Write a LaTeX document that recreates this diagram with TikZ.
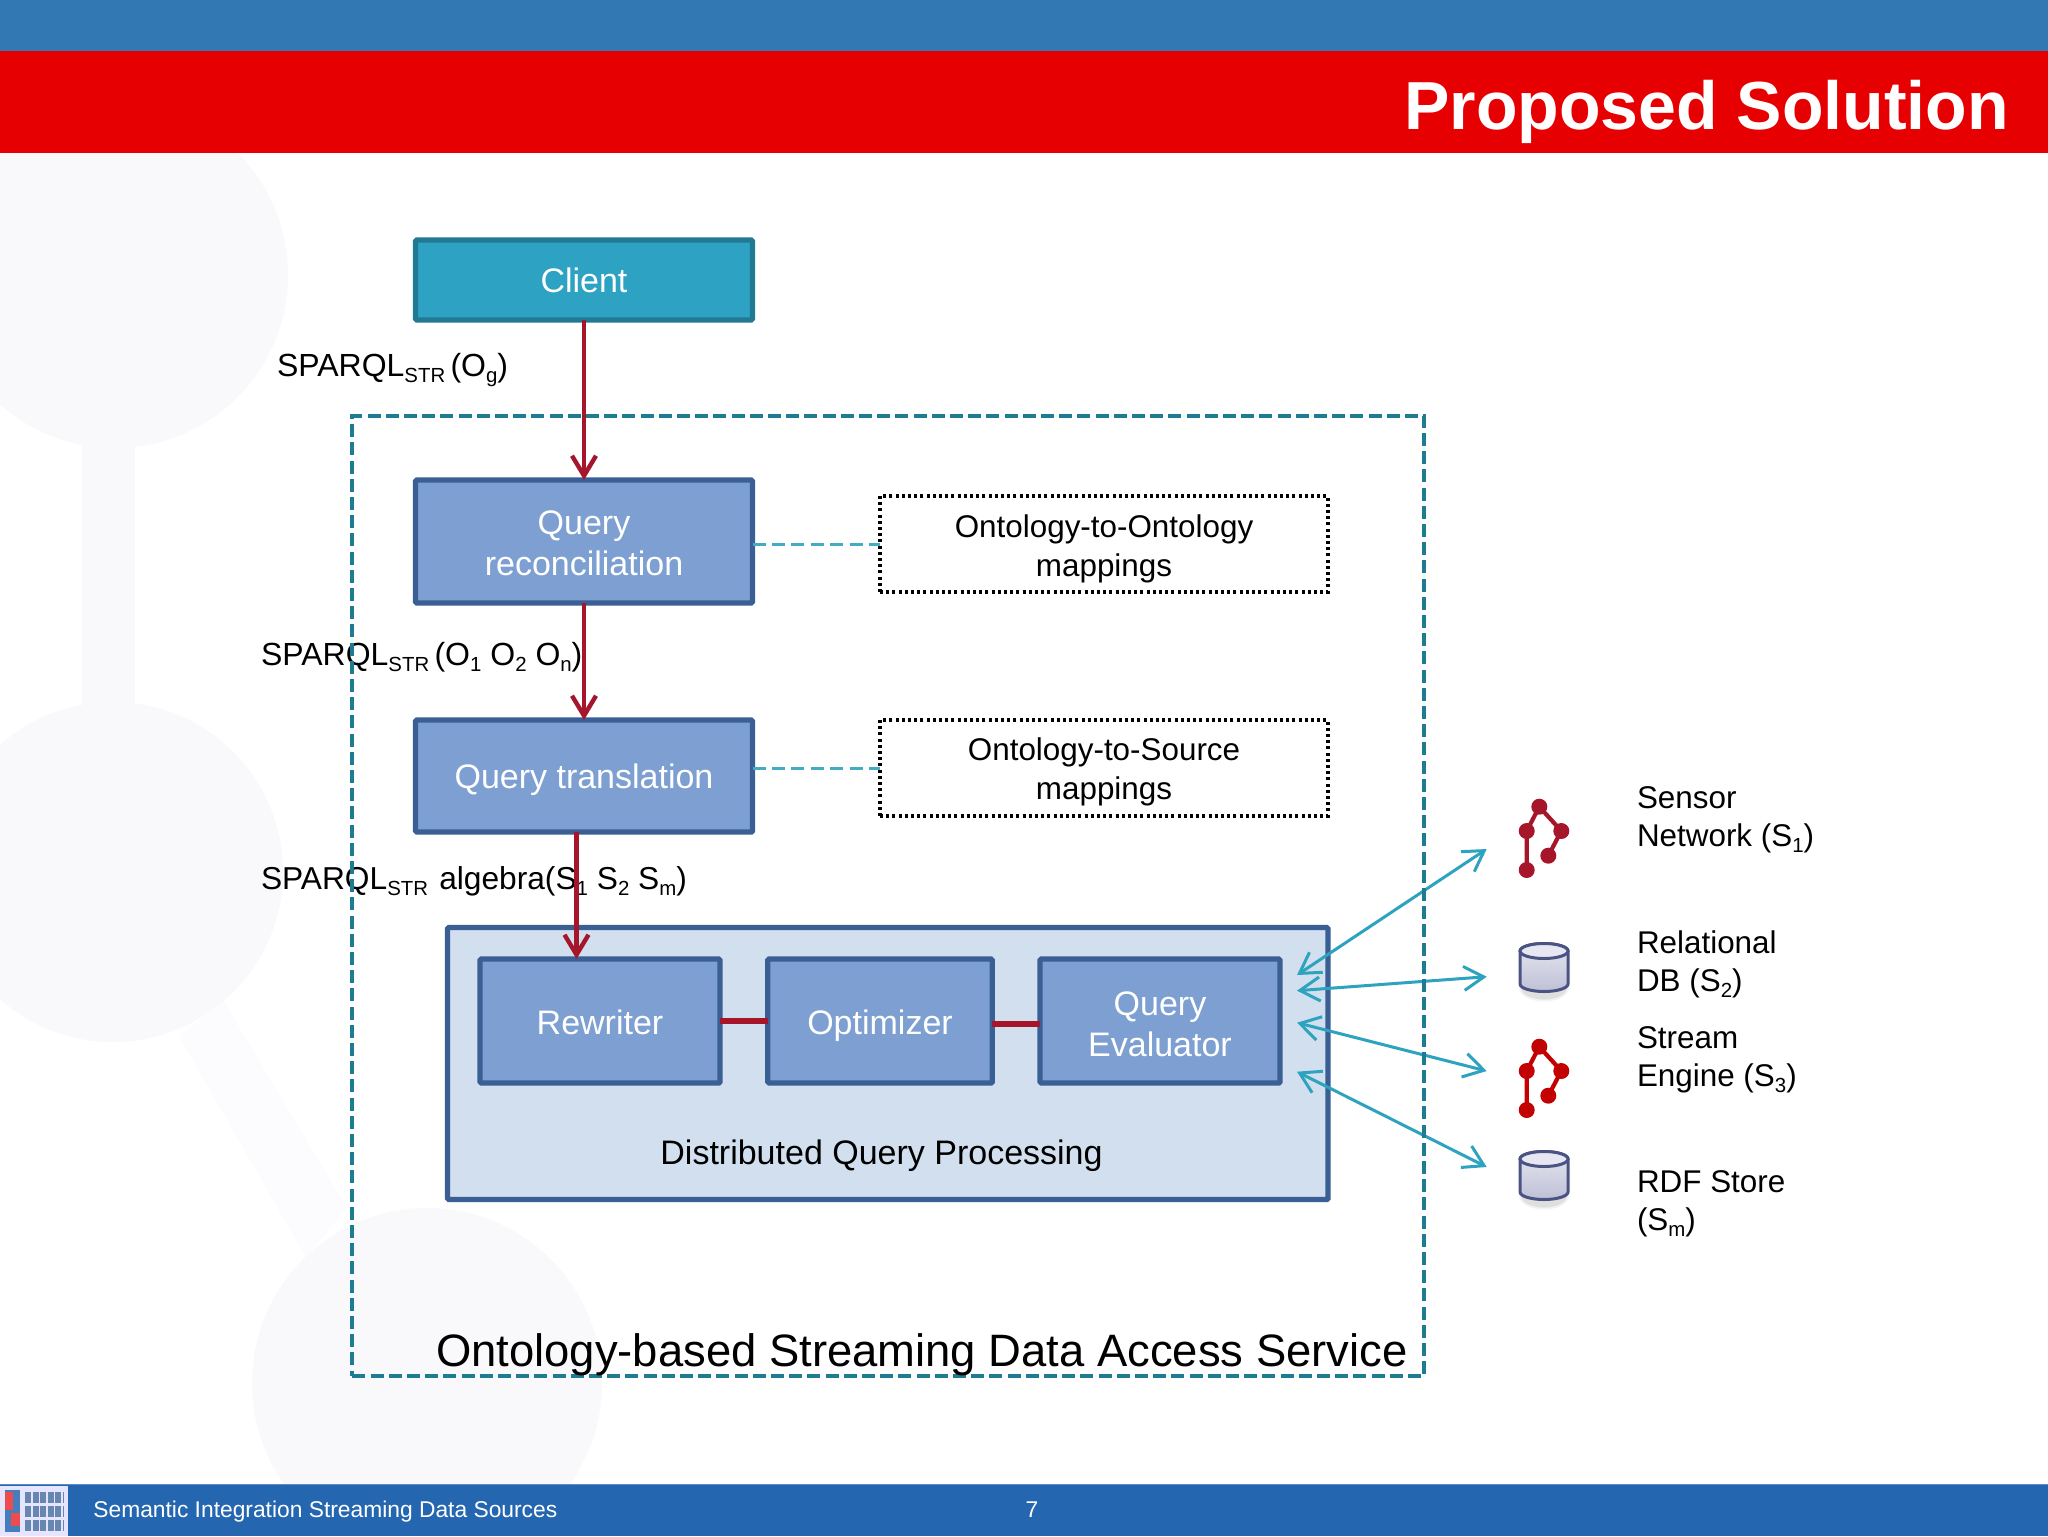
\documentclass[tikz,border=0pt]{standalone}
\usepackage{fontspec}
\setmainfont{Liberation Sans}
\usetikzlibrary{arrows.meta,calc}
\definecolor{topblue}{HTML}{3278B3}
\definecolor{topred}{HTML}{E60002}
\definecolor{footblue}{HTML}{2566B0}
\definecolor{wm}{HTML}{F9F8FB}
\definecolor{wmb}{HTML}{FCFBFD}
\definecolor{clifill}{HTML}{2EA2C3}
\definecolor{clidraw}{HTML}{217A93}
\definecolor{boxfill}{HTML}{7D9FD1}
\definecolor{boxdraw}{HTML}{3A5F95}
\definecolor{dqpfill}{HTML}{D2DFEE}
\definecolor{arrred}{HTML}{A5162A}
\definecolor{cyanl}{HTML}{2EA3BF}
\definecolor{frame}{HTML}{1F7A93}
\definecolor{cyl}{HTML}{4A5384}
\definecolor{cyltop}{HTML}{E6E7F0}
\definecolor{cylbot}{HTML}{BEC0D6}
\newcommand{\subt}[1]{\raisebox{-0.2em}{\fontsize{10.2}{10.2}\selectfont #1}}
\newcommand{\subu}[1]{\raisebox{-0.2em}{\fontsize{10.2}{10.2}\selectfont #1}}
\newcommand{\dbicon}[1]{%
  \begin{scope}[shift={(#1)}]
    \fill[black,opacity=.05] (-25,20) arc[start angle=180,end angle=0,x radius=25,y radius=14] -- cycle;
    \fill[black,opacity=.08] (-23,20) arc[start angle=180,end angle=0,x radius=23,y radius=12] -- cycle;
    \draw[cyl,line width=1.5pt,top color=cyltop,bottom color=cylbot]
      (-24,-16.5) -- (-24,16.5) arc[start angle=180,end angle=0,x radius=24,y radius=7.5] -- (24,-16.5)
      arc[start angle=0,end angle=-180,x radius=24,y radius=7.5] -- cycle;
    \draw[cyl,line width=1.5pt,fill=cyltop] (0,-16.5) ellipse[x radius=24,y radius=7.5];
  \end{scope}}
\newcommand{\neticon}[2]{%
  \begin{scope}[shift={(#1)},#2]
    \draw[line width=2.1pt] (0,0) -- (-12.6,24.3) -- (-12.6,63.3);
    \draw[line width=2.1pt] (0,0) -- (22,24.3) -- (9,49);
    \fill (0,0) circle[radius=8] (-12.6,24.3) circle[radius=8] (22,24.3) circle[radius=8] (9,49) circle[radius=8] (-12.6,63.3) circle[radius=8];
  \end{scope}}
\tikzset{
  x=0.5pt,y=-0.5pt,
  base/.style={inner sep=0pt,outer sep=0pt,align=center,font=\fontsize{17}{20.5}\selectfont},
  whitebox/.style={base,draw=boxdraw,fill=boxfill,text=white,line width=2.6pt,rounded corners=0.6pt},
  clientbox/.style={whitebox,draw=clidraw,fill=clifill},
  dqpbox/.style={whitebox,fill=dqpfill},
  mapbox/.style={base,draw=black,fill=white,line width=1.7pt,dash pattern=on 1.5pt off 1.6pt,
    minimum width=224pt,minimum height=48pt,font=\fontsize{15.7}{19.6}\selectfont},
  lab/.style={inner sep=0pt,outer sep=0pt,anchor=base west,font=\fontsize{16}{16}\selectfont},
  srclab/.style={inner sep=0pt,outer sep=0pt,anchor=north west,align=left,font=\fontsize{15.7}{19}\selectfont},
  redarrow/.style={draw=arrred,line width=2.2pt,-{Straight Barb[length=10pt,width=12pt,line width=2.2pt]}},
  redlink/.style={draw=arrred,line width=2.6pt},
  cyanarrow/.style={draw=cyanl,line width=1.5pt,{Straight Barb[length=10pt,width=12pt,line width=1.5pt]}-{Straight Barb[length=10pt,width=12pt,line width=1.5pt]}},
  maplink/.style={draw=cyanl!90!white,line width=1.5pt,dash pattern=on 6.5pt off 3.2pt},
  framebox/.style={draw=frame,line width=2pt,dash pattern=on 6.5pt off 2.6pt,inner sep=0pt,outer sep=0pt},
  logoline/.style={line width=5.5pt,dash pattern=on 3pt off 0.8pt,draw=footblue!60!gray,opacity=.8},
}
\begin{document}
\begin{tikzpicture}
\useasboundingbox (0,0) rectangle (2048,1536);
\fill[white] (0,0) rectangle (2048,1536);
% watermark
\begin{scope}
  \clip (0,153) rectangle (2048,1484);
  \fill[wm] (115,275) circle[radius=173];
  \fill[wm] (113,872) circle[radius=170];
  \fill[wm] (82,440) rectangle (135,710);
  \fill[wmb] (179,1036) -- (224,1002) -- (347,1208) -- (306,1257) -- cycle;
  \fill[wm] (427,1383) circle[radius=175];
\end{scope}
% bands
\fill[topblue] (0,0) rectangle (2048,51);
\fill[topred] (0,51) rectangle (2048,153);
\fill[footblue] (0,1484) rectangle (2048,1536);
\draw[color=footblue!75!white,line width=0.6pt] (0,1484.5) -- (2048,1484.5);
\node[inner sep=0pt,anchor=base east,text=white,font=\fontsize{34}{34}\bfseries\selectfont] (title) at (2009,129) {Proposed Solution};
% footer logo
\fill[white!90!blue] (0,1486) rectangle (68,1536);
\fill[footblue!85!white] (5,1490) rectangle (20,1532);
\fill[topred!70!white] (5,1492) rectangle (13,1510);
\fill[topred!70!white] (11,1513) rectangle (20,1526);
\draw[logoline] (25,1497) -- (64,1497);
\draw[logoline] (25,1511) -- (64,1511);
\draw[logoline] (25,1525) -- (64,1525);
\node[inner sep=0pt,anchor=base west,text=white,font=\fontsize{11.4}{11.4}\selectfont] (foot) at (93,1517) {Semantic Integration Streaming Data Sources};
\node[inner sep=0pt,anchor=base,text=white,font=\fontsize{11.4}{11.4}\selectfont] (page) at (1032,1517) {7};
% labels
\node[lab] (l1) at (277,376) {SPARQL\subt{STR}\,(O\subu{g})};
\node[lab] (l2) at (261,665) {SPARQL\subt{STR}\,(O\subu{1} O\subu{2} O\subu{n})};
\node[lab,font=\fontsize{15.85}{16}\selectfont] (l3) at (261,889) {SPARQL\subt{STR}\hspace{5.6pt}algebra(S\subu{1} S\subu{2} S\subu{m})};
% boxes
\node[dqpbox,minimum width=440.25pt,minimum height=136pt] (dqp) at (887.75,1063.5) {};
\node[clientbox,minimum width=168.5pt,minimum height=40pt] (client) at (584,280) {Client};
\node[whitebox,minimum width=168.5pt,minimum height=61.5pt] (qr) at (584,541.5) {\rule{0pt}{13.5pt}Query\\reconciliation};
\node[whitebox,minimum width=168.5pt,minimum height=56pt,text height=12.6pt,text depth=0pt] (qt) at (584,776) {Query translation};
\node[whitebox,minimum width=120pt,minimum height=62pt,text height=13.6pt,text depth=0pt] (rw) at (600,1021) {Rewriter};
\node[whitebox,minimum width=112.25pt,minimum height=62pt,text height=13.6pt,text depth=0pt] (op) at (880,1021) {Optimizer};
\node[whitebox,minimum width=120pt,minimum height=62pt] (ev) at (1160,1021) {\rule{0pt}{14.8pt}Query\\Evaluator};
\node[inner sep=0pt,font=\fontsize{17}{17}\selectfont] (dqplabel) at (881.5,1156) {Distributed Query Processing};
\node[mapbox] (m1) at (1104,544) {\rule{0pt}{16pt}Ontology-to-Ontology\\mappings};
\node[mapbox] (m2) at (1104,768) {\rule{0pt}{15pt}Ontology-to-Source\\mappings};
% connectors
\coordinate (qx) at (576.5,900);
\draw[redarrow] (client) -- (qr);
\draw[redarrow] (qr) -- (qt);
\draw[redarrow] (qt.south -| qx) -- (rw.north -| qx);
\draw[redlink] (rw.east) -- (op.west);
\draw[redlink] (op.east |- 0,1024) -- (ev.west |- 0,1024);
\draw[maplink] (qr.east |- m1) -- (m1.west);
\draw[maplink] (qt.east |- m2) -- (m2.west);
% arrow ends
\coordinate (a1) at (1297,975); \coordinate (b1) at (1486.7,849);
\coordinate (a2) at (1297,990.7); \coordinate (b2) at (1486.7,976.7);
\coordinate (a3) at (1297,1022.7); \coordinate (b3) at (1486.7,1071);
\coordinate (a4) at (1297,1071.7); \coordinate (b4) at (1486.7,1167);
\draw[cyanarrow] (a1) -- (b1);
\draw[cyanarrow] (a2) -- (b2);
\draw[cyanarrow] (a3) -- (b3);
\draw[cyanarrow] (a4) -- (b4);
% frame
\node[framebox,minimum width=536pt,minimum height=480pt] (service) at (888.3,896) {};
\node[inner sep=0pt,anchor=base east,font=\fontsize{22.7}{22.7}\selectfont] (servicelabel) at (1408,1366) {Ontology-based Streaming Data Access Service};
% icons
\neticon{1539.3,806.7}{arrred,fill=arrred}
\neticon{1539.3,1046.7}{topred!85!black,fill=topred!85!black}
\dbicon{1544,967.5}
\dbicon{1544,1175.5}
% source labels
\node[srclab] (s1) at (1637,786.5) {Sensor\\Network (S\subu{1})};
\node[srclab] (s2) at (1637,930.5) {Relational\\DB (S\subu{2})};
\node[srclab] (s3) at (1637,1026.5) {Stream\\Engine (S\subu{3})};
\node[srclab] (s4) at (1637,1170.5) {RDF Store\\(S\subu{m})};
\end{tikzpicture}
\end{document}
